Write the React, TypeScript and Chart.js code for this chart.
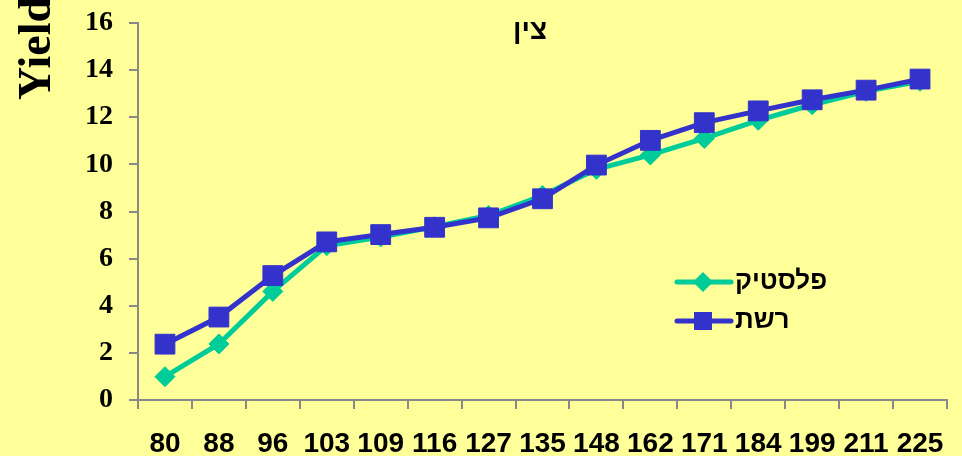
import React, { useEffect, useRef } from "react";
import { Chart, registerables } from "chart.js";

Chart.register(...registerables);

const categories = ["80", "88", "96", "103", "109", "116", "127", "135", "148", "162", "171", "184", "199", "211", "225"];
const plasticValues = [0.99, 2.38, 4.61, 6.55, 6.92, 7.35, 7.83, 8.68, 9.79, 10.4, 11.1, 11.87, 12.53, 13.1, 13.53];
const netValues = [2.37, 3.52, 5.28, 6.71, 7.02, 7.33, 7.73, 8.54, 9.97, 11.02, 11.77, 12.27, 12.74, 13.15, 13.62];
const plasticLabel = "פלסטיק";
const netLabel = "רשת";
const chartTitle = "צין";
const yTitle = "Yield";

const GREEN = "#00CC99";
const BLUE = "#3333CC";
const BG = "#FFFF99";
const AXIS = "#888888";

const decorPlugin = {
  id: "decor",
  beforeDraw(chart: any) {
    const ctx = chart.ctx;
    ctx.save();
    ctx.fillStyle = BG;
    ctx.fillRect(0, 0, chart.width, chart.height);
    ctx.restore();
  },
  afterDraw(chart: any) {
    const ctx = chart.ctx;
    ctx.save();
    // title
    ctx.fillStyle = "#000";
    ctx.font = "bold 28px 'Liberation Sans', Arial, sans-serif";
    ctx.textAlign = "center";
    ctx.textBaseline = "middle";
    ctx.fillText(chartTitle, 530, 31);

    // y title
    ctx.save();
    ctx.translate(50, 100);
    ctx.rotate(-Math.PI / 2);
    ctx.font = "bold 46px 'Liberation Serif', 'Times New Roman', serif";
    ctx.textAlign = "left";
    ctx.textBaseline = "alphabetic";
    ctx.fillText(yTitle, 0, 0);
    ctx.restore();

    // legend
    const items = [
      { label: plasticLabel, color: GREEN, style: "diamond", y: 282 },
      { label: netLabel, color: BLUE, style: "square", y: 321 },
    ];
    for (const it of items) {
      ctx.strokeStyle = it.color;
      ctx.lineWidth = 5;
      ctx.lineCap = "round";
      ctx.beginPath();
      ctx.moveTo(677, it.y);
      ctx.lineTo(731, it.y);
      ctx.stroke();
      ctx.fillStyle = it.color;
      if (it.style === "diamond") {
        ctx.beginPath();
        ctx.moveTo(703, it.y - 10);
        ctx.lineTo(713, it.y);
        ctx.lineTo(703, it.y + 10);
        ctx.lineTo(693, it.y);
        ctx.closePath();
        ctx.fill();
      } else {
        ctx.fillRect(703 - 9, it.y - 9, 18, 18);
      }
      ctx.fillStyle = "#000";
      ctx.font = "bold 26px 'Liberation Sans', Arial, sans-serif";
      ctx.textAlign = "left";
      ctx.textBaseline = "middle";
      ctx.fillText(it.label, 735, it.y);
    }
    ctx.restore();
  },
};

export default function App() {
  const ref = useRef<HTMLCanvasElement | null>(null);
  useEffect(() => {
    if (!ref.current) return;
    const chart = new Chart(ref.current, {
      type: "line",
      data: {
        labels: categories,
        datasets: [
          {
            label: netLabel,
            data: netValues,
            borderColor: BLUE,
            backgroundColor: BLUE,
            borderWidth: 5,
            pointStyle: "rect",
            pointRadius: 14,
            pointBorderWidth: 1,
            pointBorderColor: BLUE,
            pointBackgroundColor: BLUE,
            tension: 0,
          },
          {
            label: plasticLabel,
            data: plasticValues,
            borderColor: GREEN,
            backgroundColor: GREEN,
            borderWidth: 5,
            pointStyle: "rectRot",
            pointRadius: 10,
            pointBorderWidth: 1,
            pointBorderColor: GREEN,
            pointBackgroundColor: GREEN,
            tension: 0,
          },
        ],
      },
      options: {
        animation: false,
        responsive: false,
        maintainAspectRatio: false,
        layout: { padding: { left: 0, top: 23, right: 4, bottom: 0 } },
        plugins: { legend: { display: false }, tooltip: { enabled: false }, title: { display: false } },
        scales: {
          x: {
            type: "category",
            offset: true,
            grid: { offset: true, drawOnChartArea: false, drawTicks: true, tickLength: 9, color: AXIS, lineWidth: 2 },
            border: { color: AXIS, width: 2 },
            ticks: {
              color: "#000",
              font: { family: "'Liberation Sans', Arial, sans-serif", size: 28, weight: "bold", lineHeight: 1.2 },
              padding: 18,
              maxRotation: 0,
              autoSkip: false,
            },
            afterFit(scale: any) {
              scale.height = 56;
              scale.paddingLeft = 0;
              scale.paddingRight = 0;
            },
          },
          y: {
            min: 0,
            max: 16,
            ticks: {
              stepSize: 2,
              color: "#000",
              font: { family: "'Liberation Serif', 'Times New Roman', serif", size: 28, weight: "bold" },
              padding: 16,
            },
            grid: { drawOnChartArea: false, drawTicks: true, tickLength: 9, color: AXIS, lineWidth: 2 },
            border: { color: AXIS, width: 2 },
            afterFit(scale: any) {
              scale.width = 138;
              scale.paddingTop = 0;
              scale.paddingBottom = 0;
            },
          },
        },
      },
      plugins: [decorPlugin],
    } as any);
    return () => chart.destroy();
  }, []);
  return (
    <div style={{ position: "fixed", left: 0, top: 0, width: 962, height: 456, background: BG }}>
      <canvas ref={ref} width={962} height={456} style={{ width: 962, height: 456, display: "block" }} />
    </div>
  );
}
